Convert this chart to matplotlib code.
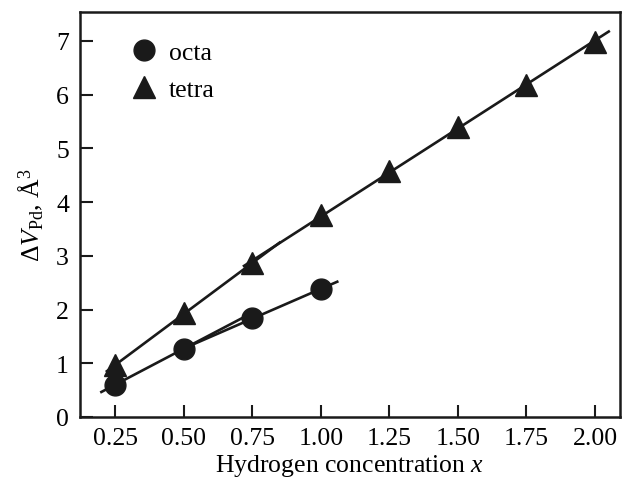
import matplotlib
matplotlib.use('Agg')
import matplotlib.pyplot as plt
import numpy as np

plt.rcParams['font.family'] = ['Liberation Serif', 'DejaVu Serif']
plt.rcParams['mathtext.fontset'] = 'custom'
plt.rcParams['mathtext.rm'] = 'Liberation Serif'
plt.rcParams['mathtext.it'] = 'Liberation Serif:italic'

# data
x_octa = [0.25, 0.50, 0.75, 1.00]
v_octa = [0.60, 1.27, 1.84, 2.38]
x_tetra = [0.25, 0.50, 0.75, 1.00, 1.25, 1.50, 1.75, 2.00]
v_tetra = [0.96, 1.93, 2.86, 3.76, 4.58, 5.40, 6.19, 6.98]

# linear fits: (series, first idx, last idx, x from, x to)
fits = [('octa', 0, 1, 0.20, 0.72),
        ('octa', 1, 3, 0.50, 1.06),
        ('tetra', 0, 2, 0.22, 0.85),
        ('tetra', 2, 7, 0.72, 2.05)]

series = {'octa': (x_octa, v_octa), 'tetra': (x_tetra, v_tetra)}
fs = 18.5

fig = plt.figure(figsize=(6.25, 4.81), dpi=100)
ax = fig.add_axes([0.128, 0.131, 0.864, 0.842])

for name, i0, i1, xa, xb in fits:
    xs, ys = series[name]
    k, b = np.polyfit(xs[i0:i1 + 1], ys[i0:i1 + 1], 1)
    xx = np.array([xa, xb])
    ax.plot(xx, k * xx + b, color='#1a1a1a', lw=1.9, zorder=2)

ax.plot(x_octa, v_octa, 'o', color='#1a1a1a', ms=15, ls='none', label='octa', zorder=3)
ax.plot(x_tetra, v_tetra, '^', color='#1a1a1a', ms=15.5, ls='none', label='tetra', zorder=3)

ax.set_xlim(0.122, 2.091)
ax.set_ylim(0, 7.54)
ax.set_xticks([0.25, 0.5, 0.75, 1.0, 1.25, 1.5, 1.75, 2.0])
ax.set_xticklabels(['0.25', '0.50', '0.75', '1.00', '1.25', '1.50', '1.75', '2.00'])
ax.set_yticks(range(8))
ax.tick_params(direction='in', length=9, width=1.5, labelsize=fs, color='#1a1a1a')
ax.tick_params(axis='x', pad=7)
ax.tick_params(axis='y', pad=8)
for s in ax.spines.values():
    s.set_linewidth(1.8)
    s.set_color('#1a1a1a')

ax.set_xlabel('Hydrogen concentration $\\mathit{x}$', fontsize=fs, labelpad=2.5)
ax.set_ylabel('$\\Delta \\mathit{V}_{\\rm Pd}$, Å$^3$', fontsize=fs, labelpad=8)

ax.legend(loc='upper left', frameon=False, fontsize=fs, numpoints=1,
          handlelength=1.3, handletextpad=0.3, labelspacing=0.55,
          bbox_to_anchor=(0.045, 0.985))

plt.savefig('out.png', dpi=100)
